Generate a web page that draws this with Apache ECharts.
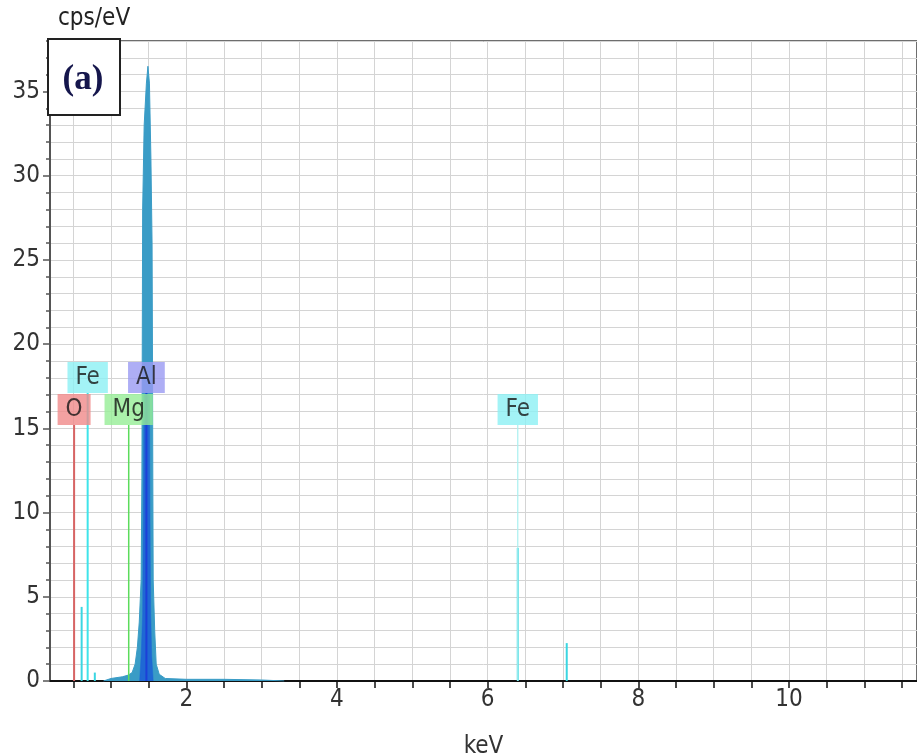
<!DOCTYPE html>
<html>
<head>
<meta charset="utf-8">
<script src="https://cdn.jsdelivr.net/npm/echarts@6/dist/echarts.min.js"></script>
<style>
  html, body { margin: 0; padding: 0; background: #ffffff; }
  #chart { width: 917px; height: 753px; }
</style>
</head>
<body>
<div id="chart"></div>
<script>
// ---- data ----
var xTickValues = [0.5,1,1.5,2,2.5,3,3.5,4,4.5,5,5.5,6,6.5,7,7.5,8,8.5,9,9.5,10,10.5,11,11.5];
var xLabelValues = [2, 4, 6, 8, 10];
var yLabelValues = [0, 5, 10, 15, 20, 25, 30, 35];

// measured spectrum (keV, cps/eV); elsewhere it lies on the baseline
var specEnergy = [0.90, 1.00, 1.15, 1.23, 1.28, 1.32, 1.35, 1.375, 1.40, 1.41, 1.415, 1.42, 1.44, 1.47, 1.49, 1.51, 1.53, 1.545, 1.55, 1.555, 1.56, 1.58, 1.60, 1.64, 1.72, 2.0, 2.5, 3.0, 3.3];
var specCounts = [0, 0.15, 0.25, 0.35, 0.50, 1.0, 2.0, 3.5, 6, 12, 20, 28, 33, 35.5, 36.5, 35.5, 31, 26, 20, 12, 6, 3, 1.0, 0.40, 0.15, 0.10, 0.10, 0.06, 0];

// Al fitted peak
var alEnergy = [1.38, 1.40, 1.42, 1.43, 1.437, 1.51, 1.517, 1.527, 1.54, 1.56];
var alCounts = [0, 1.5, 4, 10, 17, 17, 10, 4, 1.5, 0];

// Fe fitted lines (thin spikes)
var feEnergy = [0.61, 0.785, 6.40, 7.05];
var feCounts = [4.4, 0.5, 7.9, 2.25];

// element markers
var markerNames = ['O', 'Fe', 'Mg', 'Al', 'Fe'];
var markerEnergy = [0.51, 0.69, 1.235, 1.47, 6.40];
var markerTop = [15.2, 17.1, 15.2, 17.1, 15.2];
var markerLineColor = ['#d86464', '#3fe4ea', '#5cdc5c', '#1c40d8', '#a8f0f0'];
var markerBoxColor = ['#f08a8a', '#8cf0f4', '#96ee96', '#9a9af2', '#8cf0f4'];
var markerLineWidth = [2, 2, 1.5, 2, 1.2];

var FONT = "'Liberation Sans Narrow', 'DejaVu Sans Condensed', 'Liberation Sans', sans-serif";

var chart = echarts.init(document.getElementById('chart'), null, { renderer: 'canvas' });

function pairs(a, b) { return a.map(function (v, i) { return [v, b[i]]; }); }

var series = [];
series.push({
  type: 'line', name: 'spectrum', data: pairs(specEnergy, specCounts),
  symbol: 'none', smooth: false, z: 2,
  lineStyle: { color: '#3a9cc6', width: 1 },
  areaStyle: { color: '#3a9cc6', opacity: 1 }
});
series.push({
  type: 'line', name: 'Al', data: pairs(alEnergy, alCounts),
  symbol: 'none', z: 3,
  lineStyle: { color: '#1f68d4', width: 0.5 },
  areaStyle: { color: '#1f68d4', opacity: 1 }
});
feEnergy.forEach(function (e, i) {
  series.push({
    type: 'line', data: [[e, 0], [e, feCounts[i]]], symbol: 'none', z: 4,
    lineStyle: { color: '#3ad6e2', width: 2 }
  });
});
markerNames.forEach(function (n, i) {
  series.push({
    type: 'line', data: [[markerEnergy[i], 0], [markerEnergy[i], markerTop[i]]],
    symbol: 'none', z: 5,
    lineStyle: { color: markerLineColor[i], width: markerLineWidth[i] }
  });
  series.push({
    type: 'scatter', data: [[markerEnergy[i], markerTop[i]]], symbolSize: 0, z: 10,
    label: {
      show: true, position: 'top', distance: 0, formatter: n,
      fontFamily: FONT, fontSize: 24, color: '#151515',
      backgroundColor: markerBoxColor[i], padding: [3, 8, 3, 8], lineHeight: 25
    }
  });
});

var option = {
  animation: false,
  backgroundColor: '#ffffff',
  grid: {
    left: 50, right: 0, top: 41, bottom: 72,
    outerBoundsMode: 'none', containLabel: false,
    show: true, borderColor: '#6e6e6e', borderWidth: 2, backgroundColor: '#ffffff'
  },
  xAxis: {
    type: 'value', min: 0.19, max: 11.7,
    name: 'keV', nameLocation: 'middle', nameGap: 54,
    nameTextStyle: { fontFamily: FONT, fontSize: 24, color: '#333' },
    axisLine: { show: true, lineStyle: { color: '#111', width: 2 } },
    axisTick: { show: true, length: 7, customValues: xTickValues, lineStyle: { color: '#111', width: 1.5 } },
    axisLabel: { customValues: xLabelValues, margin: 7, fontFamily: FONT, fontSize: 24, color: '#333' },
    splitLine: { show: true, lineStyle: { color: '#d4d4d4', width: 1 } }
  },
  yAxis: [{
    type: 'value', min: 0, max: 38,
    axisLine: { show: true, lineStyle: { color: '#555', width: 2 } },
    axisTick: { show: true, length: 7, customValues: yLabelValues, lineStyle: { color: '#555', width: 1.5 } },
    axisLabel: { customValues: yLabelValues, margin: 10, fontFamily: FONT, fontSize: 24, color: '#333' },
    splitLine: { show: false }
  }, {
    type: 'value', min: 0, max: 38, interval: 1, position: 'left',
    axisLine: { show: false },
    axisTick: { show: true, length: 4, lineStyle: { color: '#555', width: 1.5 } },
    axisLabel: { show: false },
    splitLine: { show: true, lineStyle: { color: '#d4d4d4', width: 1 } }
  }],
  graphic: [
    { type: 'text', left: 58, top: 7, z: 100,
      style: { text: 'cps/eV', fontFamily: FONT, fontSize: 24, fill: '#222' } },
    { type: 'rect', shape: { x: 48, y: 39, width: 72, height: 76 }, z: 100,
      style: { fill: '#ffffff', stroke: '#222', lineWidth: 2 } },
    { type: 'text', x: 83, y: 80, z: 101,
      style: { text: '(a)', fontFamily: "'Liberation Serif', 'DejaVu Serif', serif", fontWeight: 'bold',
               fontSize: 35, fill: '#15164c', align: 'center', verticalAlign: 'middle' } }
  ],
  series: series
};
chart.setOption(option);
</script>
</body>
</html>
